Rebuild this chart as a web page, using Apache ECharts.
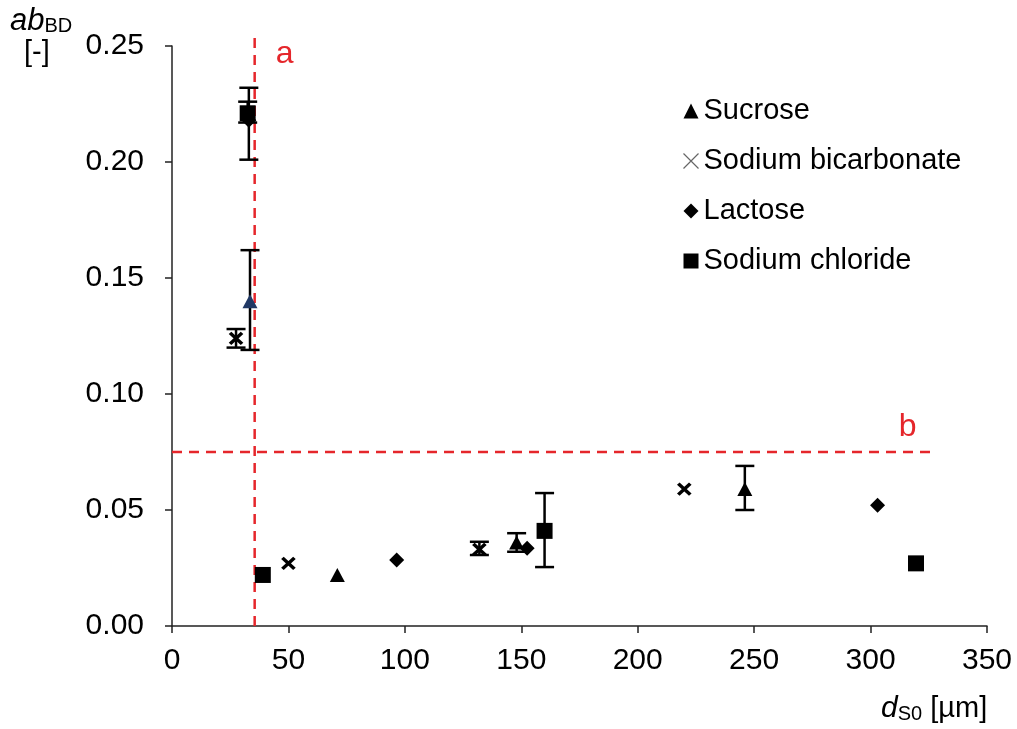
<!DOCTYPE html>
<html><head><meta charset="utf-8">
<script src="https://cdn.jsdelivr.net/npm/echarts@6/dist/echarts.min.js"></script>
<style>html,body{margin:0;padding:0;background:#fff}#c{width:1017px;height:729px}</style>
</head><body><div id="c"></div>
<script>
// ---- data ----
const sucroseX = [33.5, 71, 148, 246];
const sucroseY = [0.140, 0.022, 0.036, 0.059];
const sucroseLow = [0.119, null, 0.032, 0.050];
const sucroseHigh = [0.162, null, 0.040, 0.069];

const bicarbX = [27.5, 50, 132, 220];
const bicarbY = [0.124, 0.027, 0.033, 0.059];
const bicarbLow = [0.120, null, 0.0306, null];
const bicarbHigh = [0.128, null, 0.0363, null];

const lactoseX = [33, 96.5, 152.5, 303];
const lactoseY = [0.218, 0.0285, 0.0335, 0.052];
const lactoseLow = [0.201, null, null, null];
const lactoseHigh = [0.232, null, null, null];

const chlorideX = [32.5, 39, 160, 319.5];
const chlorideY = [0.221, 0.022, 0.041, 0.027];
const chlorideLow = [0.217, null, 0.0254, null];
const chlorideHigh = [0.226, null, 0.0573, null];

const lineAx = 35.5, lineAtop = 0.254;
const lineBy = 0.075, lineBend = 328;

const xTicks = {min: 0, max: 350, interval: 50};
const yTicks = {min: 0, max: 0.25, interval: 0.05};

// ---- build ----
const font = '"Liberation Sans", Arial, sans-serif';
const red = '#e5262b';
function pts(xs, ys) { return xs.map((x, i) => [x, ys[i]]); }
function errs(xs, lo, hi) {
  const out = [];
  xs.forEach((x, i) => { if (lo[i] != null) out.push([x, lo[i], hi[i]]); });
  return out;
}
const errData = [].concat(
  errs(sucroseX, sucroseLow, sucroseHigh),
  errs(bicarbX, bicarbLow, bicarbHigh),
  errs(lactoseX, lactoseLow, lactoseHigh),
  errs(chlorideX, chlorideLow, chlorideHigh)
);
const sucroseData = pts(sucroseX, sucroseY).map((p, i) =>
  i === 0 ? {value: p, itemStyle: {color: '#203864'}} : p);

const xPath = 'path://M0,0L10,10M10,0L0,10';

const chart = echarts.init(document.getElementById('c'));
chart.setOption({
  animation: false,
  backgroundColor: '#fff',
  textStyle: {fontFamily: font},
  grid: {left: 172, right: 30, top: 46, bottom: 103},
  title: [
    {
      left: 10, top: 4, padding: 0,
      text: '{i|ab}{s|BD}\n{n|[-]}',
      textStyle: {
        fontWeight: 'normal',
        rich: {
          i: {fontStyle: 'italic', fontWeight: 'normal', fontSize: 31, fontFamily: font, color: '#000', lineHeight: 34},
          s: {fontSize: 20, fontWeight: 'normal', fontFamily: font, color: '#000', lineHeight: 34, padding: [10, 0, 0, 0]},
          n: {fontSize: 29, fontWeight: 'normal', fontFamily: font, color: '#000', padding: [0, 0, 0, 14], lineHeight: 30}
        }
      }
    },
    {
      left: 881, top: 693, padding: 0,
      text: '{i|d}{s|S0}{n| [µm]}',
      textStyle: {
        fontWeight: 'normal',
        rich: {
          i: {fontStyle: 'italic', fontWeight: 'normal', fontSize: 30, fontFamily: font, color: '#000', lineHeight: 32},
          s: {fontSize: 20, fontWeight: 'normal', fontFamily: font, color: '#000', lineHeight: 32, padding: [10, 0, 0, 0]},
          n: {fontSize: 29, fontWeight: 'normal', fontFamily: font, color: '#000', lineHeight: 32}
        }
      }
    }
  ],
  legend: {
    orient: 'vertical', left: 676, top: 91,
    itemWidth: 15, itemHeight: 15, itemGap: 20,
    textStyle: {fontSize: 29, color: '#000', fontFamily: font, lineHeight: 30, padding: [0, 0, 0, 0]},
    data: [
      {name: 'Sucrose', icon: 'triangle', itemStyle: {color: '#000'}},
      {name: 'Sodium bicarbonate', icon: xPath, itemStyle: {color: 'none', borderColor: '#666', borderWidth: 1.2}},
      {name: 'Lactose', icon: 'diamond', itemStyle: {color: '#000'}},
      {name: 'Sodium chloride', icon: 'rect', itemStyle: {color: '#000'}}
    ]
  },
  xAxis: {
    type: 'value', min: xTicks.min, max: xTicks.max, interval: xTicks.interval,
    splitLine: {show: false},
    axisLine: {lineStyle: {color: '#222', width: 1.5}},
    axisTick: {show: true, length: 7, lineStyle: {color: '#222', width: 1.5}},
    axisLabel: {fontSize: 30, color: '#000', margin: 20, fontFamily: font}
  },
  yAxis: {
    type: 'value', min: yTicks.min, max: yTicks.max, interval: yTicks.interval,
    splitLine: {show: false},
    axisLine: {show: true, lineStyle: {color: '#222', width: 1.5}},
    axisTick: {show: true, length: 7, lineStyle: {color: '#222', width: 1.5}},
    axisLabel: {fontSize: 30, color: '#000', margin: 28, fontFamily: font,
      formatter: v => v.toFixed(2)}
  },
  series: [
    {
      type: 'line', silent: true, clip: false,
      symbol: 'none',
      lineStyle: {color: red, width: 2.5, type: [10, 7]},
      data: [[lineAx, 0], {value: [lineAx, lineAtop], symbol: 'circle', symbolSize: 0.1,
        label: {show: true, formatter: 'a', position: 'right', offset: [16, 17], fontSize: 32, color: red, fontFamily: font}}],
      z: 1
    },
    {
      type: 'line', silent: true, clip: false,
      symbol: 'none',
      lineStyle: {color: red, width: 2.5, type: [10, 7]},
      data: [[0, lineBy], {value: [lineBend, lineBy], symbol: 'circle', symbolSize: 0.1,
        label: {show: true, formatter: 'b', position: 'top', offset: [-28, -4], fontSize: 32, color: red, fontFamily: font}}],
      z: 1
    },
    {
      type: 'custom', name: 'err', silent: true, z: 3,
      data: errData,
      renderItem: function (params, api) {
        const x = api.value(0);
        const lo = api.coord([x, api.value(1)]);
        const hi = api.coord([x, api.value(2)]);
        const w = 9.5;
        const st = {stroke: '#000', lineWidth: 2.5};
        return {type: 'group', children: [
          {type: 'line', shape: {x1: lo[0], y1: lo[1], x2: hi[0], y2: hi[1]}, style: st},
          {type: 'line', shape: {x1: lo[0] - w, y1: lo[1], x2: lo[0] + w, y2: lo[1]}, style: st},
          {type: 'line', shape: {x1: hi[0] - w, y1: hi[1], x2: hi[0] + w, y2: hi[1]}, style: st}
        ]};
      }
    },
    {name: 'Sucrose', type: 'scatter', symbol: 'triangle', symbolSize: [15, 14],
      itemStyle: {color: '#000', opacity: 1}, data: sucroseData, z: 5},
    {name: 'Sodium bicarbonate', type: 'scatter', symbol: xPath, symbolSize: [12, 11],
      itemStyle: {color: 'none', borderColor: '#000', borderWidth: 3.5, opacity: 1},
      data: pts(bicarbX, bicarbY), z: 5},
    {name: 'Lactose', type: 'scatter', symbol: 'diamond', symbolSize: [15, 15],
      itemStyle: {color: '#000', opacity: 1}, data: pts(lactoseX, lactoseY), z: 5},
    {name: 'Sodium chloride', type: 'scatter', symbol: 'rect', symbolSize: 16,
      itemStyle: {color: '#000', opacity: 1}, data: pts(chlorideX, chlorideY), z: 5}
  ]
});
</script></body></html>
